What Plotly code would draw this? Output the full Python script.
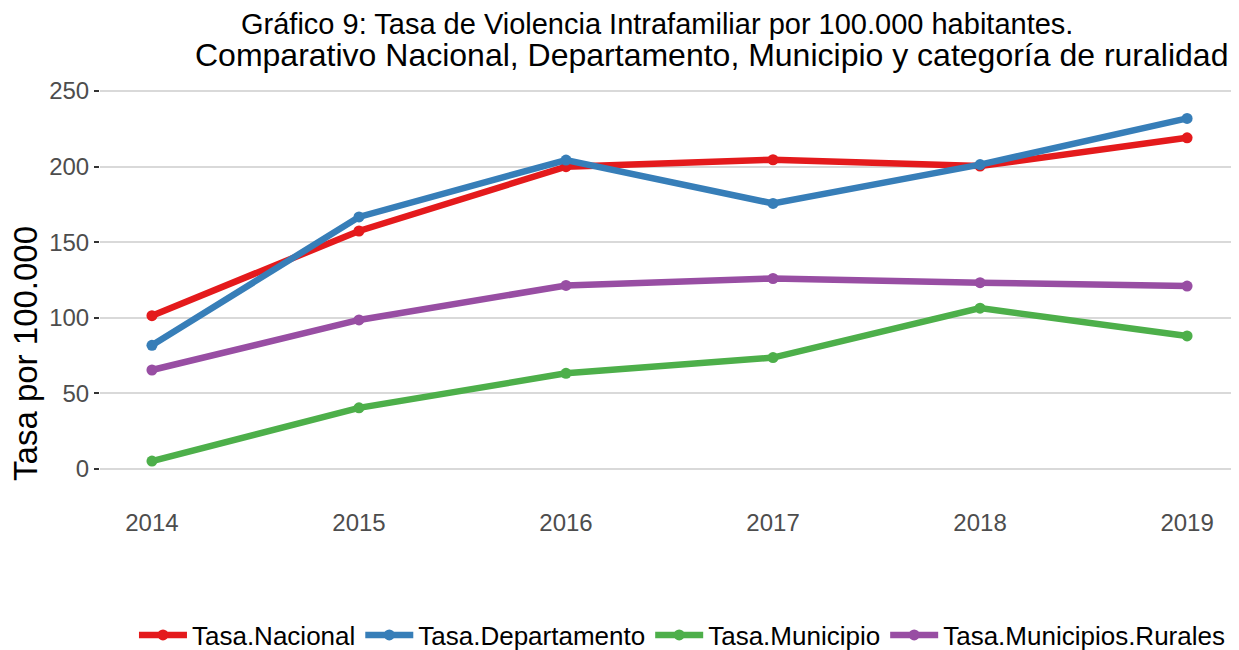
import plotly.graph_objects as go

years = [2014, 2015, 2016, 2017, 2018, 2019]
tasa_nacional = [101.4, 157.4, 199.9, 204.5, 200.3, 219.0]
tasa_departamento = [81.8, 166.7, 204.3, 175.6, 201.3, 231.8]
tasa_municipio = [5.3, 40.5, 63.3, 73.7, 106.4, 88.0]
tasa_rurales = [65.5, 98.6, 121.4, 126.0, 123.2, 121.0]

series_names = ["Tasa.Nacional", "Tasa.Departamento", "Tasa.Municipio", "Tasa.Municipios.Rurales"]
series_values = [tasa_nacional, tasa_departamento, tasa_municipio, tasa_rurales]
colors = ["#E41A1C", "#377EB8", "#4DAF4A", "#984EA3"]

y_ticks = [0, 50, 100, 150, 200, 250]

title_line1 = "Gráfico 9: Tasa de Violencia Intrafamiliar por 100.000 habitantes."
title_line2 = "Comparativo Nacional, Departamento, Municipio y categoría de ruralidad"
y_title = "Tasa por 100.000"

FONT = "Liberation Sans, Arial, sans-serif"

fig = go.Figure()
for name, vals, col in zip(series_names, series_values, colors):
    fig.add_trace(go.Scatter(
        x=years, y=vals, name=name, mode="lines+markers",
        line=dict(color=col, width=6.5),
        marker=dict(color=col, size=11),
    ))

# page body has an 8px margin, so the figure is drawn 8px right/down
fig.update_layout(
    width=1231, height=642,
    paper_bgcolor="white", plot_bgcolor="white",
    margin=dict(l=92, r=7, t=64, b=162, autoexpand=False),
    font=dict(family=FONT, color="#000000"),
    showlegend=True,
    legend=dict(
        orientation="h", x=0.5475, xanchor="center", xref="container",
        y=0.0234, yanchor="middle", yref="container",
        font=dict(size=26, color="#000000", family=FONT),
        itemwidth=48, tracegroupgap=0,
    ),
    annotations=[
        dict(text=title_line1, xref="paper", yref="paper", x=0.492, y=1.116,
             xanchor="center", yanchor="middle", showarrow=False,
             font=dict(size=29, color="#000000", family=FONT)),
        dict(text=title_line2, xref="paper", yref="paper", x=0.5406, y=1.041,
             xanchor="center", yanchor="middle", showarrow=False,
             font=dict(size=32, color="#000000", family=FONT)),
        dict(text=y_title, xref="paper", yref="paper", x=-0.0663, y=0.3245,
             xanchor="center", yanchor="middle", showarrow=False, textangle=-90,
             font=dict(size=33, color="#000000", family=FONT)),
    ],
)

fig.update_xaxes(
    range=[2013.749, 2019.217], tickmode="array", tickvals=years,
    ticktext=[str(y) for y in years], automargin=False,
    showgrid=False, zeroline=False, showline=False,
    ticks="", ticklabelstandoff=18,
    tickfont=dict(size=24, color="#4D4D4D", family=FONT),
)
fig.update_yaxes(
    range=[-12.5, 262.5], tickmode="array", tickvals=y_ticks, automargin=False,
    showgrid=True, gridcolor="#D9D9D9", gridwidth=1.5,
    zeroline=False, showline=False,
    ticks="outside", ticklen=5, tickcolor="#333333", tickwidth=1.5,
    tickfont=dict(size=24, color="#4D4D4D", family=FONT),
)

fig.write_html("out.html")
